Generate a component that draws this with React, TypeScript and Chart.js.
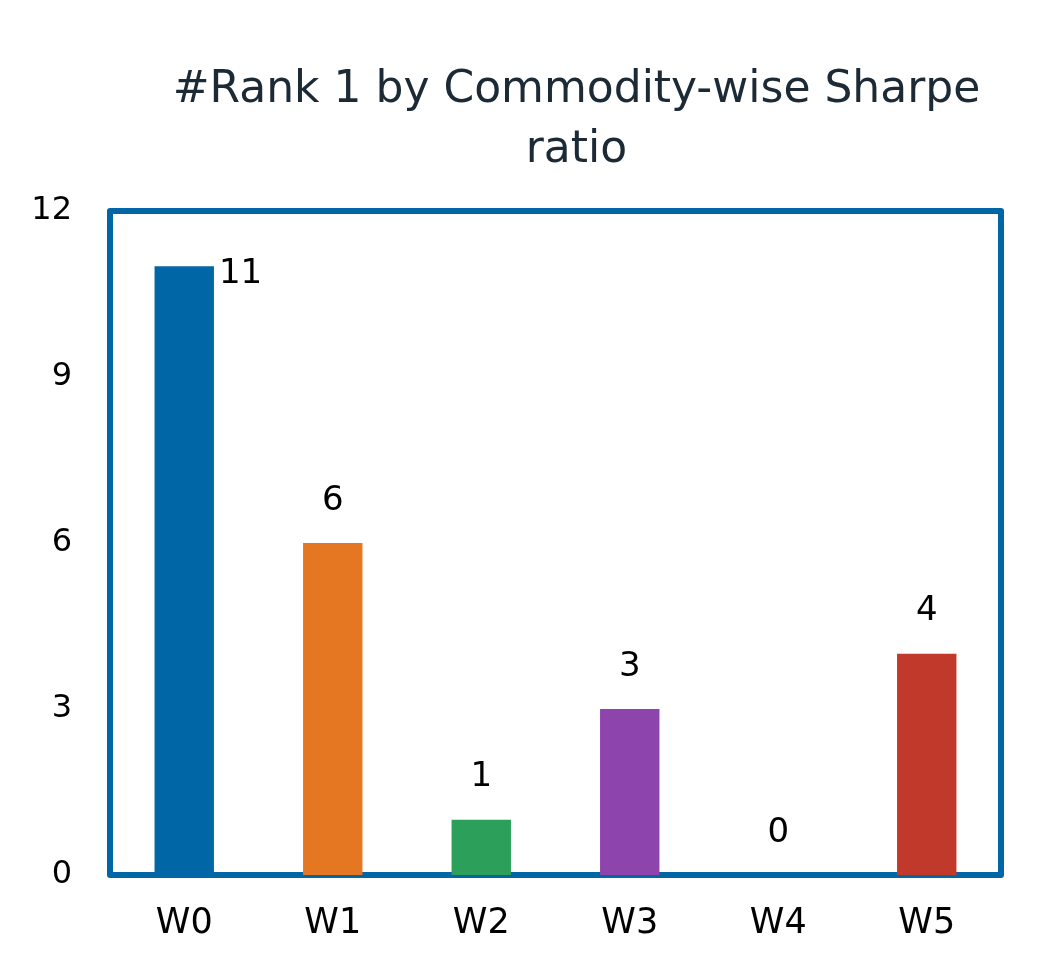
import { useEffect, useRef } from 'react';
import { Chart, registerables } from 'chart.js';

Chart.register(...registerables);

const categories = ['W0', 'W1', 'W2', 'W3', 'W4', 'W5'];
const rankOneCounts = [11, 6, 1, 3, 0, 4];
const barColors = ['#0066a6', '#e67722', '#2ca05a', '#8e44ad', '#c0392b', '#c0392b'];
const yTicks = [0, 3, 6, 9, 12];
const titleLines = ['#Rank 1 by Commodity-wise Sharpe', 'ratio'];

const FONT = '"DejaVu Sans", sans-serif';

// plot frame + title + value labels
const decorPlugin = {
  id: 'decor',
  beforeDatasetsDraw(chart: Chart) {
    const { ctx, chartArea: a } = chart;
    ctx.save();
    ctx.strokeStyle = '#0066a6';
    ctx.lineWidth = 6;
    ctx.lineJoin = 'round';
    ctx.strokeRect(a.left, a.top, a.right - a.left, a.bottom - a.top);
    ctx.restore();
  },
  afterDatasetsDraw(chart: Chart) {
    const { ctx, chartArea: a } = chart;
    ctx.save();
    // title
    ctx.fillStyle = '#1b2a35';
    ctx.font = `44px ${FONT}`;
    ctx.textAlign = 'center';
    ctx.textBaseline = 'middle';
    const cx = (a.left + a.right) / 2 + 21;
    titleLines.forEach((line, i) => ctx.fillText(line, cx, 91 + i * 60));

    // value labels
    ctx.fillStyle = '#000';
    ctx.font = `34px ${FONT}`;
    const meta = chart.getDatasetMeta(0);
    meta.data.forEach((el: any, i) => {
      const v = rankOneCounts[i];
      const top = el.y;
      if (top - 62 < a.top) {
        // no room above: put it beside the bar
        ctx.textAlign = 'left';
        ctx.textBaseline = 'middle';
        ctx.fillText(String(v), el.x + el.width / 2 + 5, top + 8);
      } else {
        ctx.textAlign = 'center';
        ctx.textBaseline = 'bottom';
        ctx.fillText(String(v), el.x, top - 25);
      }
    });
    ctx.restore();
  },
};

export default function App() {
  const canvasRef = useRef<HTMLCanvasElement>(null);
  const chartRef = useRef<Chart | null>(null);

  useEffect(() => {
    if (!canvasRef.current) return;
    if (chartRef.current) chartRef.current.destroy();

    chartRef.current = new Chart(canvasRef.current, {
      type: 'bar',
      data: {
        labels: categories,
        datasets: [{
          data: rankOneCounts,
          backgroundColor: barColors,
          barPercentage: 0.4,
          categoryPercentage: 1,
        }],
      },
      options: {
        responsive: true,
        maintainAspectRatio: false,
        animation: false,
        layout: { padding: { top: 211, right: 51, left: 0, bottom: 0 } },
        plugins: {
          legend: { display: false },
          title: { display: false },
          tooltip: { enabled: false },
        },
        scales: {
          x: {
            grid: { display: false },
            border: { display: false },
            ticks: { color: '#000', font: { family: FONT, size: 35 }, padding: 20 },
            afterFit: (scale: any) => { scale.height = 98; },
          },
          y: {
            min: 0,
            max: 12,
            afterBuildTicks: (scale: any) => { scale.ticks = yTicks.map((v) => ({ value: v })); },
            grid: { display: false },
            border: { display: false },
            ticks: { color: '#000', font: { family: FONT, size: 32 }, padding: 30 },
            afterFit: (scale: any) => { scale.width = 110; },
          },
        },
      },
      plugins: [decorPlugin],
    });

    return () => {
      if (chartRef.current) {
        chartRef.current.destroy();
        chartRef.current = null;
      }
    };
  }, []);

  return (
    <div style={{ position: 'absolute', left: 0, top: 0, width: 1052, height: 973, background: '#fff' }}>
      <canvas ref={canvasRef} />
    </div>
  );
}
